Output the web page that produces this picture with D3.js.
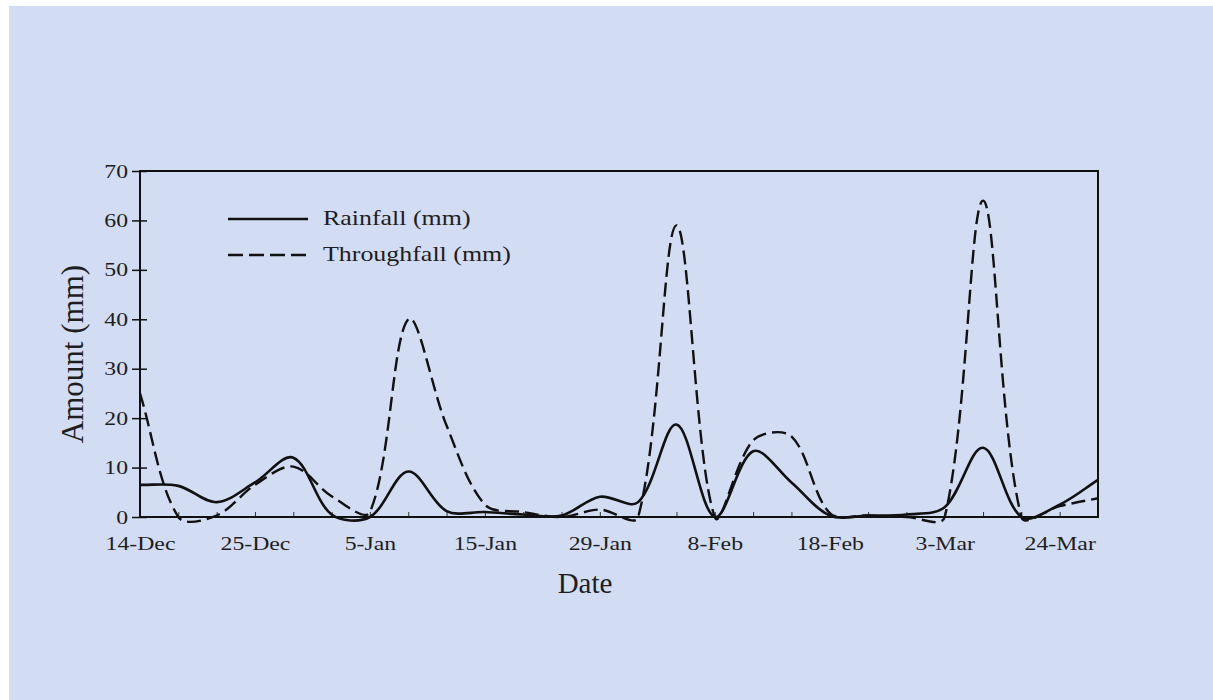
<!DOCTYPE html>
<html>
<head>
<meta charset="utf-8">
<script src="https://cdn.jsdelivr.net/npm/d3@7"></script>
<style>
  body { margin: 0; background: #fff; }
  text { font-family: "Liberation Serif", "Times New Roman", serif; fill: #1e1e1e; }
</style>
</head>
<body>
<svg id="chart" width="1213" height="700"></svg>
<script>
const rainfall = [6.5, 6.3, 3.0, 7.0, 12.0, 0.5, 0.0, 9.2, 1.2, 1.0, 0.5, 0.3, 4.1,
  3.0, 18.7, 0.0, 13.3, 7.0, 0.3, 0.3, 0.5, 2.0, 14.0, 0.0, 2.5, 7.5];
const throughfall = [25, 0.0, 0.3, 6.5, 10.2, 4.2, 1.0, 40, 18.5, 2.5, 1.0, 0.0, 1.5,
  0.0, 59, 0.0, 15.5, 16.3, 0.8, 0.3, 0.0, 0.0, 64, 0.0, 2.2, 3.8];
// only every third category carries a date label
const tickLabels = ["14-Dec", "25-Dec", "5-Jan", "15-Jan", "29-Jan", "8-Feb", "18-Feb", "3-Mar", "24-Mar"];
const labelEvery = 3;
const yTicks = [0, 10, 20, 30, 40, 50, 60, 70];

const svg = d3.select("#chart"),
  width = +svg.attr("width"),
  height = +svg.attr("height"),
  margin = { top: 171, right: 115, bottom: 183, left: 140 };

const chartWidth = width - margin.left - margin.right;
const chartHeight = height - margin.top - margin.bottom;
const stretch = 1.25; // the source lettering is drawn wide

// spreadsheet-style smoothed line: tangent along neighbours,
// each side scaled by its own segment length
function smoothCurve(context) {
  let pts = [];
  return {
    areaStart() {},
    areaEnd() {},
    lineStart() { pts = []; },
    point(x, y) { pts.push([+x, +y]); },
    lineEnd() {
      const n = pts.length;
      if (!n) return;
      context.moveTo(pts[0][0], pts[0][1]);
      const dist = (a, b) => Math.hypot(b[0] - a[0], b[1] - a[1]);
      for (let i = 0; i < n - 1; i++) {
        const p0 = pts[i - 1] || pts[i], p1 = pts[i], p2 = pts[i + 1], p3 = pts[i + 2] || pts[i + 1];
        const d01 = dist(p0, p1), d12 = dist(p1, p2), d23 = dist(p2, p3);
        const f1 = d12 / (d01 + d12) / 3, f2 = d12 / (d12 + d23) / 3;
        context.bezierCurveTo(
          p1[0] + (p2[0] - p0[0]) * f1, p1[1] + (p2[1] - p0[1]) * f1,
          p2[0] - (p3[0] - p1[0]) * f2, p2[1] - (p3[1] - p1[1]) * f2,
          p2[0], p2[1]);
      }
    },
  };
}

// page background
svg.append("rect").attr("x", 9).attr("y", 6)
  .attr("width", width - 9).attr("height", height - 6)
  .attr("fill", "#d2dcf2");

const g = svg.append("g")
  .attr("transform", `translate(${margin.left},${margin.top})`);

const x = d3.scalePoint()
  .domain(d3.range(rainfall.length))
  .range([0, chartWidth]);

const y = d3.scaleLinear()
  .domain([0, 70])
  .range([chartHeight, 0]);

// X axis
const xAxis = g.append("g")
  .attr("transform", `translate(0,${chartHeight})`)
  .call(d3.axisBottom(x)
    .tickSize(-5)
    .tickFormat((i) => (i % labelEvery === 0 ? tickLabels[i / labelEvery] : "")));
xAxis.select(".domain").remove();
xAxis.selectAll("line").attr("stroke", "#333").attr("stroke-width", 1);
xAxis.selectAll("text")
  .attr("y", 33).attr("dy", 0)
  .attr("transform", `scale(${stretch},1)`)
  .style("font-size", "19px")
  .attr("fill", "#1e1e1e");

// Y axis
const yAxis = g.append("g")
  .call(d3.axisLeft(y).tickValues(yTicks).tickSize(8));
yAxis.select(".domain").remove();
yAxis.selectAll("line").attr("x1", 7).attr("stroke", "#111").attr("stroke-width", 1.5);
yAxis.selectAll("text")
  .attr("x", -12 / stretch)
  .attr("transform", `scale(${stretch},1)`)
  .style("font-size", "19px")
  .attr("fill", "#1e1e1e");

// frame
g.append("rect")
  .attr("width", chartWidth).attr("height", chartHeight)
  .attr("fill", "none").attr("stroke", "#111").attr("stroke-width", 2);

// series
const line = d3.line()
  .x((d, i) => x(i))
  .y((d) => y(d))
  .curve(smoothCurve);

g.append("path")
  .attr("d", line(throughfall))
  .attr("fill", "none").attr("stroke", "#111")
  .attr("stroke-width", 2.4).attr("stroke-dasharray", "14,6");

g.append("path")
  .attr("d", line(rainfall))
  .attr("fill", "none").attr("stroke", "#111")
  .attr("stroke-width", 2.6);

// Legend
const legendItems = [
  { label: "Rainfall (mm)", dash: null, y: 219 },
  { label: "Throughfall (mm)", dash: "15,6", y: 255 },
];
legendItems.forEach((d) => {
  svg.append("line")
    .attr("x1", 228).attr("x2", 308)
    .attr("y1", d.y).attr("y2", d.y)
    .attr("stroke", "#111").attr("stroke-width", 2.6)
    .attr("stroke-dasharray", d.dash);
  svg.append("g")
    .attr("transform", `translate(323,${d.y + 6})`)
    .append("text")
    .attr("transform", "scale(1.235,1)")
    .style("font-size", "21px")
    .text(d.label);
});

// axis titles
svg.append("text")
  .attr("x", 585).attr("y", 593)
  .attr("text-anchor", "middle")
  .style("font-size", "29px")
  .text("Date");

svg.append("text")
  .attr("transform", "translate(83,354) rotate(-90)")
  .attr("text-anchor", "middle")
  .style("font-size", "31px")
  .text("Amount (mm)");
</script>
</body>
</html>
